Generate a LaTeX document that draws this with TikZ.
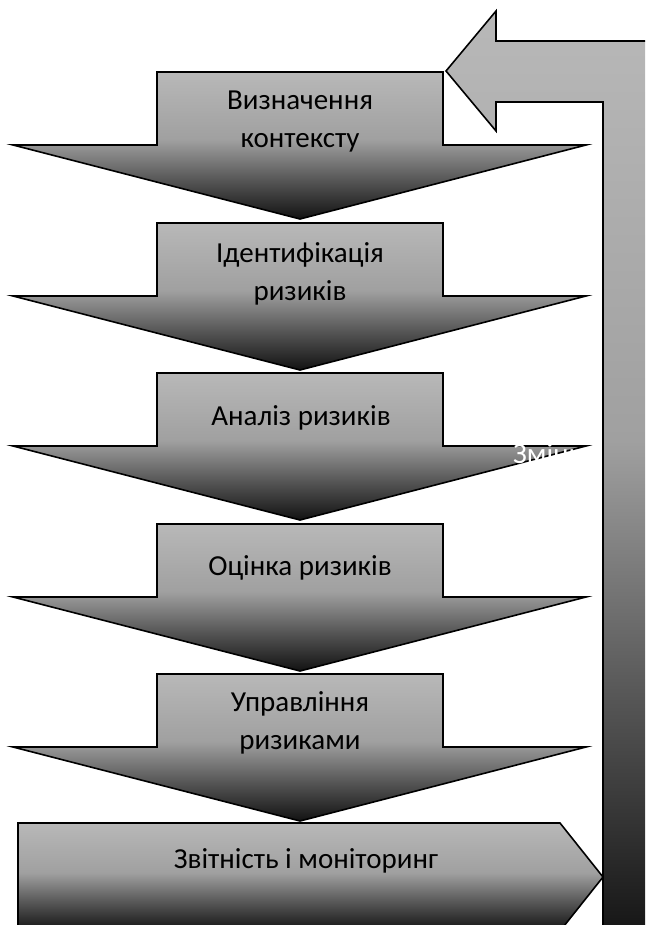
\documentclass[tikz,border=0pt]{standalone}
\usepackage{fontspec}
\setmainfont{Carlito}
\definecolor{lt}{HTML}{B8B8B8}
\definecolor{m1}{HTML}{A0A0A0}
\definecolor{m2}{HTML}{5A5A5A}
\definecolor{dk}{HTML}{121212}
\pgfdeclareverticalshading{arrsh}{100bp}{color(0bp)=(dk); color(25bp)=(dk); color(39bp)=(m2); color(52bp)=(m1); color(75bp)=(lt); color(100bp)=(lt)}
\tikzset{
  shp/.style={draw=black, line width=1.6pt, line join=miter, shading=arrsh},
  lbl/.style={font=\fontsize{29}{38}\selectfont, text=black, inner sep=0pt, anchor=base},
}
\newcommand{\dnarrow}[1]{%
  \path[shp] (157,#1) -- (443,#1) -- (443,#1+73) -- (586,#1+73) -- (300,#1+147) -- (13,#1+73) -- (157,#1+73) -- cycle;}
\begin{document}
\begin{tikzpicture}[x=1pt,y=-1pt]
\useasboundingbox (0,0) rectangle (645,925);
\clip (0,0) rectangle (645,925);
% return arrow
\path[shp] (446,71) -- (496,11) -- (496,41) -- (670,41) -- (670,945) -- (603,945) -- (603,102) -- (496,102) -- (496,131) -- cycle;
% down arrows
\dnarrow{72}
\dnarrow{223}
\dnarrow{373}
\dnarrow{524}
\dnarrow{674}
% final pentagon
\path[shp] (18,823) -- (560,823) -- (603,877) -- (560,931) -- (18,931) -- cycle;
% labels
\node[lbl] (t1a) at (300,110) {Визначення};
\node[lbl] (t1b) at (300,148) {контексту};
\node[lbl] (t2a) at (300,262) {Ідентифікація};
\node[lbl] (t2b) at (300,300) {ризиків};
\node[lbl] (t3) at (301,425) {Аналіз ризиків};
\node[lbl] (t4) at (300,575) {Оцінка ризиків};
\node[lbl] (t5a) at (300,711) {Управління};
\node[lbl] (t5b) at (300,749) {ризиками};
\node[lbl] (t6) at (306,868) {Звітність і моніторинг};
\node[lbl, text=white, anchor=base west] (t7) at (513,463) {Зміни};
\end{tikzpicture}
\end{document}
